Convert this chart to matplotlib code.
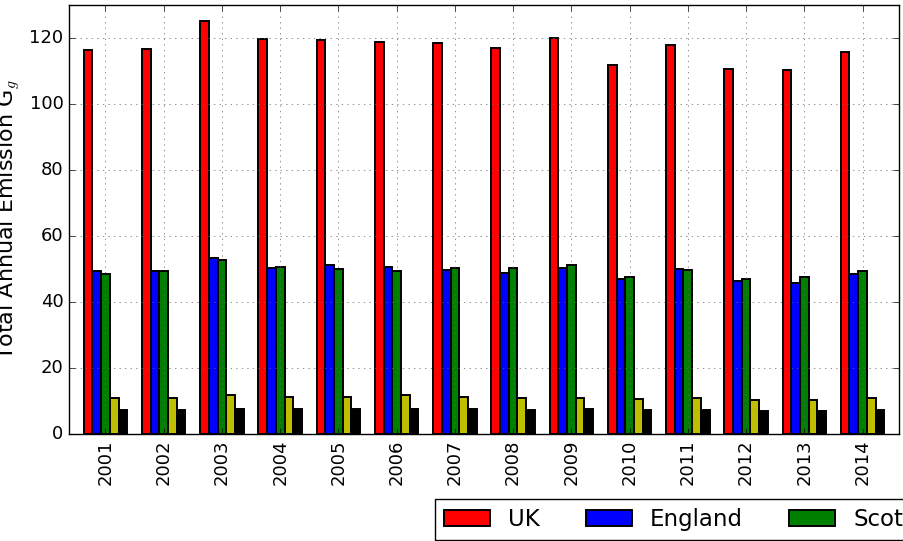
import numpy as np
import matplotlib
matplotlib.use('Agg')
import matplotlib.pyplot as plt

plt.style.use('classic')

years = ['2001', '2002', '2003', '2004', '2005', '2006', '2007',
         '2008', '2009', '2010', '2011', '2012', '2013', '2014']

uk = [116.4, 116.8, 125.2, 119.6, 119.5, 118.8, 118.5,
      117.0, 120.0, 111.7, 117.8, 110.7, 110.3, 115.7]
england = [49.5, 49.4, 53.2, 50.2, 51.1, 50.7, 49.6,
           48.9, 50.3, 47.1, 49.9, 46.4, 45.8, 48.6]
scotland = [48.6, 49.4, 52.8, 50.7, 50.0, 49.3, 50.4,
            50.3, 51.3, 47.6, 49.6, 47.1, 47.5, 49.5]
wales = [10.8, 10.8, 11.7, 11.1, 11.1, 11.7, 11.1,
         10.8, 10.8, 10.5, 10.8, 10.2, 10.2, 10.8]
nireland = [7.2, 7.2, 7.5, 7.5, 7.5, 7.5, 7.5,
            7.2, 7.5, 7.2, 7.2, 6.9, 6.9, 7.2]

series = [('UK', uk, 'r'), ('England', england, 'b'),
          ('Scotland', scotland, 'g'), ('Wales', wales, 'y'),
          ('Northern Ireland', nireland, 'k')]

ind = np.arange(len(years))
width = 0.15

fig = plt.figure(figsize=(9.04, 5.41), dpi=100)
ax = fig.add_axes([69 / 904., 1 - 434 / 541., 830 / 904., 429 / 541.])

for k, (name, vals, col) in enumerate(series):
    ax.bar(ind + k * width, vals, width, color=col, label=name,
           align='edge', edgecolor='k', linewidth=1.4)

ax.set_xticks(ind + 2.5 * width)
ax.set_xticklabels(years, rotation=90, fontsize=13)
ax.set_xlim(-0.25, 14.0)
ax.set_ylim(0, 130)
ax.set_yticks(np.arange(0, 121, 20))
ax.tick_params(axis='y', labelsize=13)
ax.set_ylabel('Total Annual Emission G$_g$', fontsize=16)
ax.grid(True, color='0.4')

# legend hangs below the axes, partly off the right edge
ax.legend(loc='upper left', bbox_to_anchor=(435 / 904., 1 - 499 / 541.),
          bbox_transform=fig.transFigure, ncol=5, fontsize=16.5,
          borderaxespad=0)

fig.savefig('out.png', dpi=100, facecolor='white')
